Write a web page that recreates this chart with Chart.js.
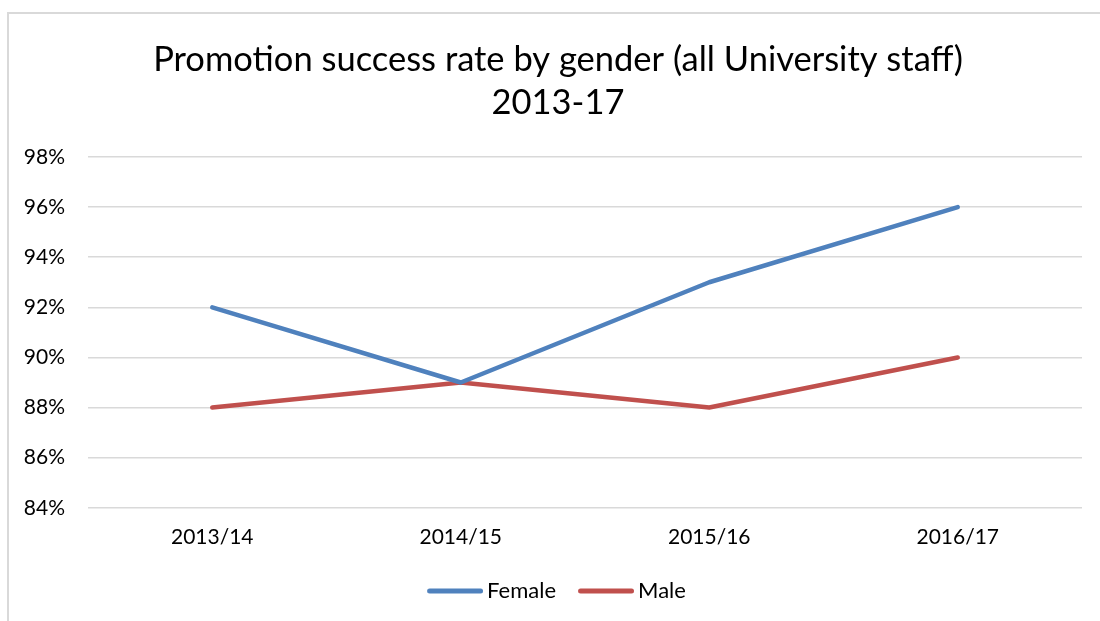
<!DOCTYPE html>
<html>
<head>
<meta charset="utf-8">
<script src="https://cdn.jsdelivr.net/npm/chart.js@4/dist/chart.umd.min.js"></script>
<style>
  html, body { margin:0; padding:0; background:#fff; width:1100px; height:621px; overflow:hidden; }
  #frame { position:absolute; left:7px; top:12px; width:1200px; height:700px; border-left:2px solid #D9D9D9; border-top:2px solid #D9D9D9; box-sizing:border-box; }
  #c { position:absolute; left:8px; top:0; }
</style>
</head>
<body>
<div id="frame"></div>
<canvas id="c" width="1100" height="621"></canvas>
<script>
const categories = ['2013/14', '2014/15', '2015/16', '2016/17'];
const femaleValues = [92, 89, 93, 96];
const maleValues = [88, 89, 88, 90];
const seriesNames = ['Female', 'Male'];
const seriesColors = ['#4F81BD', '#C0504D'];
const titleLines = ['Promotion success rate by gender (all University staff)', '2013-17'];
const yTicks = { min: 84, max: 98, step: 2 };

const FONT = 'Lato, "Open Sans", sans-serif';
Chart.defaults.font.family = FONT;
Chart.defaults.color = '#000';

// legend swatch: a short thick line, shifted so it sits close to the label text
function legendLine(color) {
  const cv = document.createElement('canvas');
  cv.width = 60; cv.height = 8;
  const g = cv.getContext('2d');
  g.strokeStyle = color; g.lineWidth = 5; g.lineCap = 'round';
  g.beginPath(); g.moveTo(6.5, 4); g.lineTo(57.5, 4); g.stroke();
  return cv;
}

new Chart(document.getElementById('c'), {
  type: 'line',
  data: {
    labels: categories,
    datasets: [
      { label: seriesNames[0], data: femaleValues, borderColor: seriesColors[0], backgroundColor: seriesColors[0], borderWidth: 4.5, pointRadius: 0, pointStyle: legendLine(seriesColors[0]), tension: 0, borderCapStyle: 'round', borderJoinStyle: 'round' },
      { label: seriesNames[1], data: maleValues, borderColor: seriesColors[1], backgroundColor: seriesColors[1], borderWidth: 4.5, pointRadius: 0, pointStyle: legendLine(seriesColors[1]), tension: 0, borderCapStyle: 'round', borderJoinStyle: 'round' }
    ]
  },
  options: {
    responsive: false,
    animation: false,
    layout: { padding: { left: 0, right: 0, top: 0, bottom: 9 } },
    plugins: {
      title: {
        display: true,
        text: titleLines,
        font: { size: 34.5, weight: 'normal', lineHeight: 1.246 },
        color: '#000',
        padding: { top: 38.5, bottom: 32.5 }
      },
      legend: {
        position: 'bottom',
        labels: {
          usePointStyle: true,
          pointStyleWidth: 46,
          boxHeight: 8,
          font: { size: 22 },
          color: '#000',
          padding: 25
        }
      },
      tooltip: { enabled: false }
    },
    scales: {
      x: {
        offset: true,
        grid: { display: false, drawTicks: false },
        border: { display: false },
        afterFit: s => { s.height -= 12; },
        ticks: { padding: 17, font: { size: 21 }, color: '#000', maxRotation: 0 }
      },
      y: {
        min: yTicks.min,
        max: yTicks.max,
        grid: { color: '#D9D9D9', lineWidth: 1.5, drawTicks: false },
        border: { display: false },
        afterFit: s => { s.width = 80; },
        ticks: { stepSize: yTicks.step, padding: 23, font: { size: 21 }, color: '#000', callback: v => v + '%' }
      },
      spacer: {
        position: 'right',
        grid: { display: false, drawTicks: false },
        border: { display: false },
        ticks: { display: false },
        afterFit: s => { s.width = 26; }
      }
    }
  }
});
</script>
</body>
</html>
